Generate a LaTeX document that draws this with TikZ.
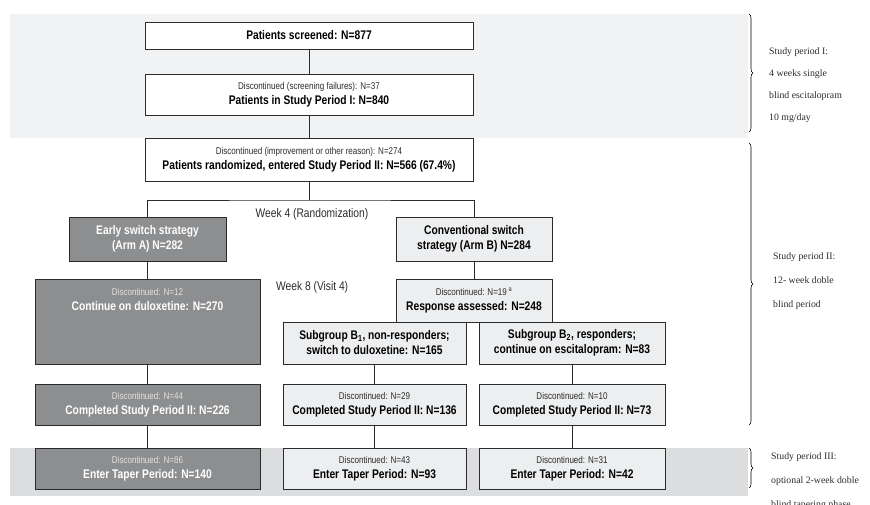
\documentclass[tikz,border=0pt]{standalone}
\usepackage{fontspec}
\usetikzlibrary{positioning,decorations.pathreplacing}
\newfontfamily\boxfont[FakeStretch=0.82]{Liberation Sans}
\newfontfamily\periodfont{Liberation Serif}
\definecolor{bandlight}{HTML}{F1F2F4}
\definecolor{banddark}{HTML}{DCDDDF}
\definecolor{armdark}{HTML}{8D8E90}
\definecolor{armlight}{HTML}{EDEEF0}
\definecolor{edge}{HTML}{2B2B2B}
\definecolor{faint}{HTML}{E2E2E2}
\newcommand{\disc}[2][edge]{{\fontsize{9.8}{15}\selectfont\mdseries\color{#1}#2}}

\begin{document}
\begin{tikzpicture}[x=1pt,y=-1pt,font={\boxfont\fontsize{12.5}{15}\selectfont},
  stage/.style={draw=edge,line width=0.8pt,align=center,inner sep=0pt},
  plainbox/.style={stage,fill=white},
  armAbox/.style={stage,fill=armdark,text=white},
  armBbox/.style={stage,fill=armlight,text=black},
  weektext/.style={text=edge,inner sep=0pt},
  periodtext/.style={align=left,inner sep=0pt,anchor=west,text=edge},
  periodbrace/.style={decorate,decoration={brace,amplitude=4pt},line width=0.6pt,black}]
  \useasboundingbox (0,0) rectangle (870,504);
  \fill[bandlight] (10,14) rectangle (748,138);
  \fill[banddark] (10,448) rectangle (748,496);

  \node[plainbox,minimum width=328pt,minimum height=27pt] (screen) at (309,35.5)
       {\textbf{Patients screened: N=877}};
  \node[plainbox,minimum width=328pt,minimum height=41pt] (sp1) at (309,94.5)
       {\disc{Discontinued (screening failures): N=37}\\\textbf{Patients in Study Period I: N=840}};
  \node[plainbox,minimum width=328pt,minimum height=43pt] (rand) at (309,159.5)
       {\disc{Discontinued (improvement or other reason): N=274}\\
        \textbf{Patients randomized, entered Study Period II: N=566 (67.4\%)}};
  \coordinate (split) at (309,200);

  \node[armAbox,minimum width=157pt,minimum height=44pt] (armA) at (147.5,239)
       {\textbf{Early switch strategy}\\\textbf{(Arm A) N=282}};
  \node[armBbox,minimum width=156pt,minimum height=44pt] (armB) at (474,239)
       {\textbf{Conventional switch}\\\textbf{strategy (Arm B) N=284}};
  \node[weektext] (wk4) at (312,214) {Week 4 (Randomization)};
  \node[weektext,anchor=west] (wk8) at (276,287) {Week 8 (Visit 4)};

  \node[armAbox,minimum width=225pt,minimum height=85pt] (contA) at (147.5,321.5) {};
  \node[text=white,align=center,inner sep=0pt] (contAtext) at (147.5,299.5)
       {\disc[faint]{Discontinued: N=12}\\\textbf{Continue on duloxetine: N=270}};
  \node[armBbox,minimum width=156pt,minimum height=43pt] (resp) at (474,300.5)
       {\disc{Discontinued: N=19\,\textsuperscript{a}}\\\textbf{Response assessed: N=248}};
  \node[armBbox,minimum width=183pt,minimum height=42pt] (subB1) at (374.5,343)
       {\textbf{Subgroup B\textsubscript{1}, non-responders;}\\\textbf{switch to duloxetine: N=165}};
  \node[armBbox,minimum width=186pt,minimum height=42pt] (subB2) at (572,343)
       {\textbf{Subgroup B\textsubscript{2}, responders;}\\\textbf{continue on escitalopram: N=83}};

  \node[armAbox,minimum width=225pt,minimum height=41pt] (compA) at (147.5,404.5)
       {\disc[faint]{Discontinued: N=44}\\\textbf{Completed Study Period II: N=226}};
  \node[armBbox,minimum width=183pt,minimum height=41pt] (compB1) at (374.5,404.5)
       {\disc{Discontinued: N=29}\\\textbf{Completed Study Period II: N=136}};
  \node[armBbox,minimum width=186pt,minimum height=41pt] (compB2) at (572,404.5)
       {\disc{Discontinued: N=10}\\\textbf{Completed Study Period II: N=73}};

  \node[armAbox,minimum width=225pt,minimum height=41pt] (taperA) at (147.5,468.5)
       {\disc[faint]{Discontinued: N=86}\\\textbf{Enter Taper Period: N=140}};
  \node[armBbox,minimum width=183pt,minimum height=41pt] (taperB1) at (374.5,468.5)
       {\disc{Discontinued: N=43}\\\textbf{Enter Taper Period: N=93}};
  \node[armBbox,minimum width=186pt,minimum height=41pt] (taperB2) at (572,468.5)
       {\disc{Discontinued: N=31}\\\textbf{Enter Taper Period: N=42}};

  \draw[edge,line width=0.8pt] (screen) -- (sp1);
  \draw[edge,line width=0.8pt] (sp1) -- (rand);
  \draw[edge,line width=0.8pt] (rand) -- (split);
  \draw[edge,line width=0.8pt] (armA) |- (split) -| (armB);
  \draw[edge,line width=0.8pt] (armA) -- (contA);
  \draw[edge,line width=0.8pt] (armB) -- (resp);
  \draw[edge,line width=0.8pt] (contA) -- (compA);
  \draw[edge,line width=0.8pt] (subB1) -- (compB1);
  \draw[edge,line width=0.8pt] (subB2) -- (compB2);
  \draw[edge,line width=0.8pt] (compA) -- (taperA);
  \draw[edge,line width=0.8pt] (compB1) -- (taperB1);
  \draw[edge,line width=0.8pt] (compB2) -- (taperB2);

  \draw[periodbrace] (749,14) -- (749,132);
  \draw[periodbrace] (749,143) -- (749,425);
  \draw[periodbrace] (749,448) -- (749,488);
  \node[periodtext,font={\periodfont\fontsize{9.8}{22}\selectfont}] (perI) at (769,85)
       {Study period I:\\4 weeks single\\blind escitalopram\\10 mg/day};
  \node[periodtext,font={\periodfont\fontsize{9.8}{24}\selectfont}] (perII) at (773,281)
       {Study period II:\\12- week doble\\blind period};
  \node[periodtext,font={\periodfont\fontsize{9.8}{24}\selectfont}] (perIII) at (771,481)
       {Study period III:\\optional 2-week doble\\blind tapering phase};
\end{tikzpicture}
\end{document}
